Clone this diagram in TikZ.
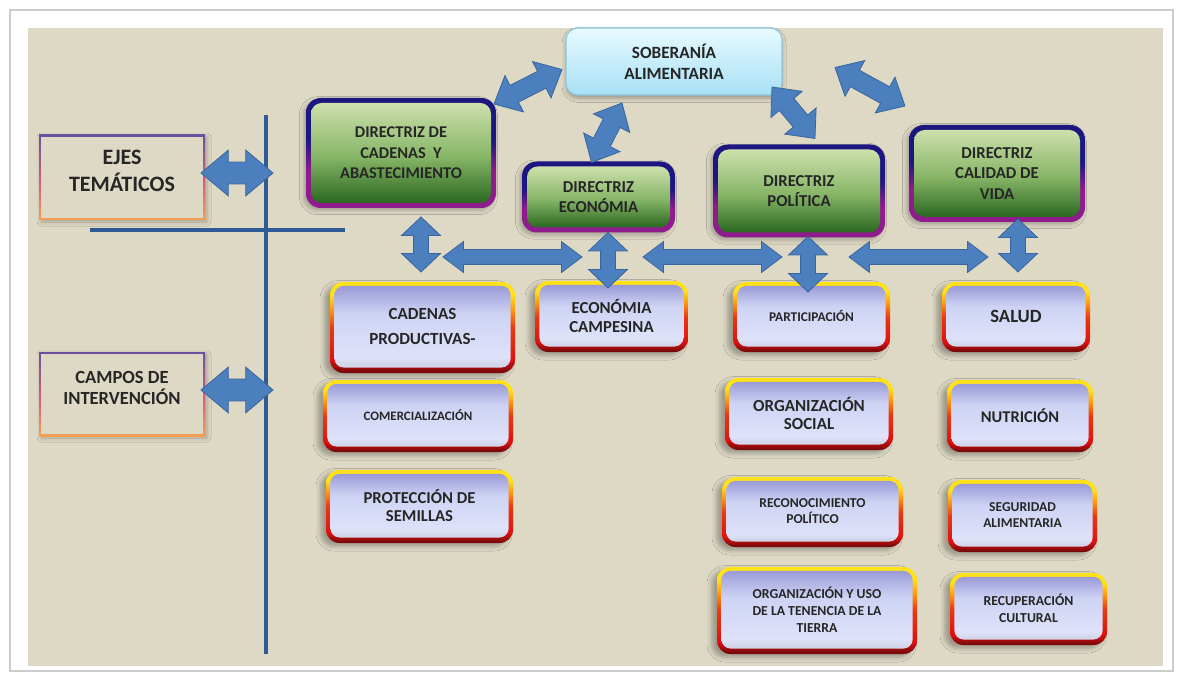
\documentclass[tikz,border=0pt]{standalone}
\usepackage{fontspec}
\setmainfont{Carlito}
\usetikzlibrary{calc,shapes.arrows,shadows.blur}

% palette
\definecolor{pagebeige}{HTML}{DED9C5}
\definecolor{axisblue}{HTML}{2E5A96}
\definecolor{arrowfill}{HTML}{4C7FBD}
\definecolor{arrowedge}{HTML}{3A659E}
\definecolor{txt}{HTML}{262626}
\definecolor{navyrim}{HTML}{1E1680}
\definecolor{purplerim}{HTML}{8E1C8C}
\definecolor{greentop}{HTML}{CDE0AC}
\definecolor{greenmid}{HTML}{86B566}
\definecolor{greenbot}{HTML}{2A6820}
\definecolor{rimyellow}{HTML}{FFE11A}
\definecolor{rimorange}{HTML}{FF9A10}
\definecolor{rimred}{HTML}{E01010}
\definecolor{rimdark}{HTML}{7A0A0A}
\definecolor{lavtop}{HTML}{9A9AD6}
\definecolor{lavmid}{HTML}{CED3F4}
\definecolor{lavbot}{HTML}{DEE2F9}
\definecolor{skytop}{HTML}{E8FAFF}
\definecolor{skybot}{HTML}{A6E0F5}
\definecolor{skyedge}{HTML}{8CC8DE}
\definecolor{framepurple}{HTML}{6B4FA0}
\definecolor{framepink}{HTML}{E0607A}
\definecolor{frameorange}{HTML}{F4A050}

% vertical shadings (0bp = bottom, path spans 25bp..75bp)
\pgfdeclareverticalshading{fieldrimshade}{100bp}{color(0bp)=(rimdark); color(26bp)=(rimdark); color(32bp)=(rimred); color(50bp)=(rimred!70!rimorange); color(60bp)=(rimorange); color(68bp)=(rimyellow); color(100bp)=(rimyellow)}
\pgfdeclareverticalshading{fieldfaceshade}{100bp}{color(0bp)=(lavbot!85!gray); color(27bp)=(lavbot!88!gray); color(31bp)=(lavbot); color(58bp)=(lavmid); color(75bp)=(lavtop); color(100bp)=(lavtop)}
\pgfdeclareverticalshading{dirrimshade}{100bp}{color(0bp)=(purplerim); color(25bp)=(purplerim); color(42bp)=(purplerim); color(56bp)=(navyrim); color(100bp)=(navyrim)}
\pgfdeclareverticalshading{dirfaceshade}{100bp}{color(0bp)=(greenbot); color(25bp)=(greenbot); color(48bp)=(greenmid); color(75bp)=(greentop); color(100bp)=(greentop)}
\pgfdeclareverticalshading{skyshade}{100bp}{color(0bp)=(skybot); color(25bp)=(skybot); color(75bp)=(skytop); color(100bp)=(skytop)}
\pgfdeclareverticalshading{framershade}{100bp}{color(0bp)=(frameorange); color(25bp)=(frameorange); color(45bp)=(framepink); color(75bp)=(framepurple); color(100bp)=(framepurple)}

\newcommand\txtsize[2]{\fontsize{#1pt}{#2pt}\selectfont\bfseries}

\tikzset{
  every node/.style={outer sep=0pt},
  axisline/.style={draw=axisblue, line width=2.6pt},
  dirrim/.style={shade, shading=dirrimshade, rounded corners=11pt, inner sep=0pt,
    blur shadow={shadow xshift=-2pt, shadow yshift=-2pt, shadow opacity=25, shadow blur radius=3pt}},
  dirface/.style={shade, shading=dirfaceshade, rounded corners=8pt, inner sep=0pt, align=center, text=txt},
  fieldrim/.style={shade, shading=fieldrimshade, rounded corners=10pt, inner sep=0pt,
    blur shadow={shadow xshift=-4pt, shadow yshift=-2.5pt, shadow opacity=30, shadow blur radius=3.5pt}},
  fieldface/.style={shade, shading=fieldfaceshade, rounded corners=7pt, inner sep=0pt, align=center, text=txt},
  labelrim/.style={shade, shading=framershade, inner sep=0pt,
    blur shadow={shadow xshift=1.5pt, shadow yshift=-1.5pt, shadow opacity=25, shadow blur radius=3pt}},
  labelface/.style={fill=pagebeige, inner sep=0pt},
  labeltext/.style={align=center, text=txt, inner sep=0pt},
  skybox/.style={shade, shading=skyshade, draw=skyedge, line width=0.8pt, rounded corners=9pt,
    inner sep=0pt, align=center, text=txt,
    blur shadow={shadow xshift=0pt, shadow yshift=-2.5pt, shadow opacity=30, shadow blur radius=3pt}},
  dblbase/.style={shape=double arrow, draw=arrowedge, fill=arrowfill, line width=0.6pt, inner xsep=0pt},
  arrowL/.style={dblbase, inner ysep=7.9pt, double arrow head extend=9pt, double arrow tip angle=80},
  arrowD/.style={dblbase, inner ysep=6.75pt, double arrow head extend=8.25pt, double arrow tip angle=84},
  arrowV/.style={dblbase, inner ysep=5.25pt, double arrow head extend=9pt, double arrow tip angle=93},
  arrowH/.style={dblbase, inner ysep=5.25pt, double arrow head extend=6pt, double arrow tip angle=74},
}

% boxes: name, cx, cy, w, h (px), font size, baseline skip (pt), text
\newcommand\dirbox[8]{%
  \node[dirrim, minimum width=#4*0.75pt, minimum height=#5*0.75pt] (#1-rim) at (#2,#3) {};
  \node[dirface, minimum width=#4*0.75pt-7.5pt, minimum height=#5*0.75pt-7.5pt,
        font=\txtsize{#6}{#7}] (#1) at (#1-rim.center) {#8};
}
\newcommand\fieldbox[8]{%
  \node[fieldrim, minimum width=#4*0.75pt, minimum height=#5*0.75pt] (#1-rim) at (#2,#3) {};
  \node[fieldface, minimum width=#4*0.75pt-6.5pt, minimum height=#5*0.75pt-7pt,
        font=\txtsize{#6}{#7}] (#1) at ([yshift=0.6pt]#1-rim.center) {#8};
}
\newcommand\labelbox[8]{%
  \node[labelrim, minimum width=#4*0.75pt, minimum height=#5*0.75pt] (#1-rim) at (#2,#3) {};
  \node[labelface, minimum width=#4*0.75pt-3pt, minimum height=#5*0.75pt-3pt] (#1) at (#1-rim.center) {};
  \node[labeltext, font=\txtsize{#6}{#7}] (#1-text) at ([yshift=4.8pt]#1.center) {#8};
}
% block double arrow between two points: name, from, to, style
\newcommand\dblarrow[4]{%
  \path let \p1=#2, \p2=#3, \n1={atan2(\y2-\y1,\x2-\x1)}, \n2={veclen(\x2-\x1,\y2-\y1)} in
    ($#2!0.5!#3$) node[#4, minimum height=\n2, rotate=\n1] (#1) {};
}

\begin{document}
\begin{tikzpicture}[x=0.75pt, y=-0.75pt]
\useasboundingbox (0,0) rectangle (1177,677);
\fill[white] (0,0) rectangle (1177,677);
\draw[black!20, line width=1.2pt] (10,10) rectangle (1173,671);
\fill[pagebeige] (28,28) rectangle (1163,666);

% axes separating guidelines from fields
\coordinate (vtop) at (266,115);
\coordinate (vbot) at (266,654);
\coordinate (hleft) at (90,230);
\coordinate (hright) at (345,230);
\draw[axisline] (vtop) -- (vbot);
\draw[axisline, line width=3pt] (hleft) -- (hright);

% row headings
\labelbox{ejes}{122}{177.5}{166}{85}{16.5}{20}{EJES\\TEMÁTICOS}
\labelbox{campos}{122}{394}{166}{84}{13.9}{15.8}{CAMPOS DE\\INTERVENCIÓN}

% top concept
\node[skybox, minimum width=162pt, minimum height=50.25pt, font=\txtsize{12.9}{15.8}] (sob) at (674,61.5) {SOBERANÍA\\ALIMENTARIA};

% guidelines
\dirbox{cad}{401}{153}{190}{110}{12.3}{15.5}{DIRECTRIZ DE\\CADENAS~~Y\\ABASTECIMIENTO}
\dirbox{eco}{598.5}{197}{153}{71}{12.5}{15.4}{DIRECTRIZ\\ECONÓMIA}
\dirbox{pol}{799}{191}{172}{93}{12.5}{15.4}{DIRECTRIZ\\POLÍTICA}
\dirbox{cal}{997}{173.5}{176}{97}{12.5}{15.4}{DIRECTRIZ\\CALIDAD DE\\VIDA}

% fields of intervention
\fieldbox{cadprod}{422.5}{327.5}{185}{91}{12.75}{18.75}{CADENAS\\PRODUCTIVAS-}
\fieldbox{ecocamp}{611.5}{316.5}{153}{71}{12.6}{14.5}{ECONÓMIA\\CAMPESINA}
\fieldbox{comer}{418}{416}{190}{72}{9.7}{12}{COMERCIALIZACIÓN}
\fieldbox{prot}{419.5}{506.5}{187}{73}{12.5}{13.8}{PROTECCIÓN DE\\SEMILLAS}
\fieldbox{part}{811.5}{317}{157}{70}{10}{12}{PARTICIPACIÓN}
\fieldbox{orgsoc}{809}{414}{168}{72}{12.7}{13.8}{ORGANIZACIÓN\\SOCIAL}
\fieldbox{recon}{812.5}{512}{181}{70}{10.2}{12.5}{RECONOCIMIENTO\\POLÍTICO}
\fieldbox{tierra}{817}{610.5}{200}{87}{10.3}{13}{ORGANIZACIÓN Y USO\\DE LA TENENCIA DE LA\\TIERRA}
\fieldbox{salud}{1016}{317}{148}{70}{14}{16}{SALUD}
\fieldbox{nutri}{1020}{416}{146}{72}{12.3}{14}{NUTRICIÓN}
\fieldbox{segur}{1022.5}{516}{149}{72}{10.2}{12.5}{SEGURIDAD\\ALIMENTARIA}
\fieldbox{recup}{1028.5}{609}{157}{72}{10.3}{12.5}{RECUPERACIÓN\\CULTURAL}

% headings to the axis
\dblarrow{aejes}{([shift={(-4,-4.5)}]ejes-rim.east)}{([shift={(7,58)}]vtop)}{arrowL}
\dblarrow{acampos}{([shift={(-4,-4)}]campos-rim.east)}{([shift={(7,275)}]vtop)}{arrowL}

% guidelines to the top concept
\dblarrow{dcad}{([shift={(-2,6)}]cad-rim.north east)}{([shift={(-4,8)}]sob.west)}{arrowD}
\dblarrow{deco}{([shift={(-7,1)}]eco-rim.north)}{([shift={(56,8)}]sob.south west)}{arrowD}
\dblarrow{dpol}{([shift={(-10,-8)}]sob.south east)}{([shift={(16,-6)}]pol-rim.north)}{arrowD}
\dblarrow{dcal}{([shift={(53,6)}]sob.east)}{([shift={(-4,-19)}]cal-rim.north west)}{arrowD}

% guidelines to their fields
\dblarrow{vcad}{([shift={(20,9)}]cad-rim.south)}{([shift={(-1.5,-10)}]cadprod-rim.north)}{arrowV}
\dblarrow{veco}{([shift={(9.5,0)}]eco-rim.south)}{([shift={(-3.5,7)}]ecocamp-rim.north)}{arrowV}
\dblarrow{vpol}{([shift={(9,-1)}]pol-rim.south)}{([shift={(-3.5,10)}]part-rim.north)}{arrowV}
\dblarrow{vcal}{([shift={(21,-3)}]cal-rim.south)}{([shift={(2,-10)}]salud-rim.north)}{arrowV}

% links along the field row
\coordinate (h1a) at (443,257);
\coordinate (h1b) at (582,257);
\coordinate (h2a) at (643,257);
\coordinate (h2b) at (782,257);
\coordinate (h3a) at (849,257);
\coordinate (h3b) at (988,257);
\dblarrow{hone}{(h1a)}{(h1b)}{arrowH}
\dblarrow{htwo}{(h2a)}{(h2b)}{arrowH}
\dblarrow{hthree}{(h3a)}{(h3b)}{arrowH}
\end{tikzpicture}
\end{document}
